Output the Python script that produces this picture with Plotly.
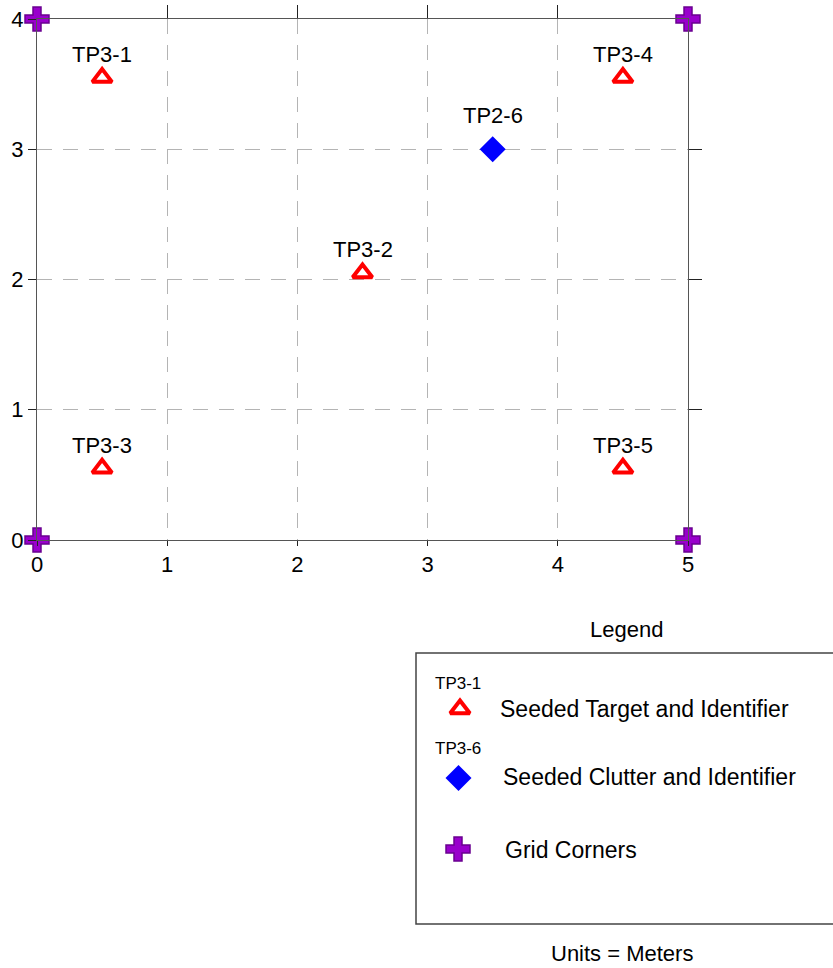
import plotly.graph_objects as go

# Seeded targets (triangles)
target_ids = ["TP3-1", "TP3-4", "TP3-2", "TP3-3", "TP3-5"]
target_x = [0.5, 4.5, 2.5, 0.5, 4.5]
target_y = [3.55, 3.55, 2.05, 0.55, 0.55]

# Seeded clutter (diamonds)
clutter_ids = ["TP2-6"]
clutter_x = [3.5]
clutter_y = [3.0]

# Grid corners (crosses)
corner_x = [0, 0, 5, 5]
corner_y = [0, 4, 0, 4]

x_ticks = [0, 1, 2, 3, 4, 5]
y_ticks = [0, 1, 2, 3, 4]

# Legend entries
legend_names = ["Seeded Target and Identifier", "Seeded Clutter and Identifier", "Grid Corners"]
legend_ids = ["TP3-1", "TP3-6", ""]

W, H = 833, 968
FONT = "Liberation Sans, Arial, sans-serif"
RED = "#ff0000"
BLUE = "#0000ff"
PURPLE = "#9900cc"
PURPLE_EDGE = "#6a0090"
CLEAR = "rgba(0,0,0,0)"

x_dom = [37 / W, 688 / W]
y_dom = [1 - 540 / H, 1 - 19 / H]

fig = go.Figure()

tri_marker = dict(symbol="triangle-up-open", size=17, color=RED, line=dict(color=RED, width=4))
dia_marker = dict(symbol="diamond", size=20, color=BLUE, line=dict(color=BLUE, width=0))
cross_marker = dict(symbol="cross", size=20, color=PURPLE, line=dict(color=PURPLE_EDGE, width=1.5))

fig.add_trace(go.Scatter(x=target_x, y=target_y, mode="markers", marker=tri_marker,
                         cliponaxis=False, hoverinfo="skip", showlegend=False))
fig.add_trace(go.Scatter(x=clutter_x, y=clutter_y, mode="markers", marker=dia_marker,
                         cliponaxis=False, hoverinfo="skip", showlegend=False))
fig.add_trace(go.Scatter(x=corner_x, y=corner_y, mode="markers", marker=cross_marker,
                         cliponaxis=False, hoverinfo="skip", showlegend=False))

# Top / right frame axes with longer ticks
fig.add_trace(go.Scatter(x=[None], y=[None], xaxis="x2", yaxis="y2",
                         showlegend=False, hoverinfo="skip"))

annotations = []
for name, x, y in zip(target_ids, target_x, target_y):
    annotations.append(dict(x=x, y=y, xref="x", yref="y", text=name, showarrow=False,
                            yshift=23, font=dict(size=22, color="black", family=FONT)))
for name, x, y in zip(clutter_ids, clutter_x, clutter_y):
    annotations.append(dict(x=x, y=y, xref="x", yref="y", text=name, showarrow=False,
                            yshift=34, font=dict(size=22, color="black", family=FONT)))

# Legend panel, laid out on a pixel-space overlay axis
leg_sym_x = [460, 458.5, 458]
leg_sym_y = [709, 778, 849]
leg_text_x = [498, 501, 503]
leg_text_y = [709, 777, 850]
leg_id_y = [683, 748, None]

fig.add_trace(go.Scatter(x=[leg_sym_x[0]], y=[leg_sym_y[0]], xaxis="x3", yaxis="y3", mode="markers",
                         marker=tri_marker, showlegend=False, hoverinfo="skip", cliponaxis=False))
fig.add_trace(go.Scatter(x=[leg_sym_x[1]], y=[leg_sym_y[1]], xaxis="x3", yaxis="y3", mode="markers",
                         marker=dia_marker, showlegend=False, hoverinfo="skip", cliponaxis=False))
fig.add_trace(go.Scatter(x=[leg_sym_x[2]], y=[leg_sym_y[2]], xaxis="x3", yaxis="y3", mode="markers",
                         marker=cross_marker, showlegend=False, hoverinfo="skip", cliponaxis=False))

for name, tx, ty in zip(legend_names, leg_text_x, leg_text_y):
    annotations.append(dict(x=tx, y=ty, xref="x3", yref="y3", text=name, showarrow=False,
                            xanchor="left", yanchor="middle",
                            font=dict(size=23, color="black", family=FONT)))
for lid, sx, iy in zip(legend_ids, leg_sym_x, leg_id_y):
    if lid:
        annotations.append(dict(x=458, y=iy, xref="x3", yref="y3", text=lid, showarrow=False,
                                xanchor="center", yanchor="middle",
                                font=dict(size=17, color="black", family=FONT)))

annotations.append(dict(x=626, y=629, xref="x3", yref="y3", text="Legend", showarrow=False,
                        font=dict(size=22, color="black", family=FONT)))
annotations.append(dict(x=622, y=953, xref="x3", yref="y3", text="Units = Meters", showarrow=False,
                        font=dict(size=22, color="black", family=FONT)))

shapes = [dict(type="rect", xref="x3", yref="y3", x0=416, x1=834, y0=653, y1=924,
               line=dict(color="#444444", width=1.5), layer="below")]

grid_style = dict(showgrid=True, gridcolor="#b4b4b4", gridwidth=1, griddash="15px,11px")

fig.update_layout(
    width=W, height=H,
    margin=dict(l=0, r=0, t=0, b=0, pad=0, autoexpand=False),
    paper_bgcolor="white", plot_bgcolor=CLEAR,
    font=dict(family=FONT, color="black"),
    annotations=annotations,
    shapes=shapes,
    xaxis=dict(domain=x_dom, range=[0, 5], tickvals=x_ticks, ticktext=[str(v) for v in x_ticks],
               ticks="outside", ticklen=5, tickcolor="#222222", showline=True, linecolor="#555555",
               linewidth=1, zeroline=False, anchor="y", tickfont=dict(size=22, family=FONT),
               automargin=False, fixedrange=True, **grid_style),
    yaxis=dict(domain=y_dom, range=[0, 4], tickvals=y_ticks, ticktext=[str(v) for v in y_ticks],
               ticks="outside", ticklen=8, tickcolor="#222222", showline=True, linecolor="#555555",
               linewidth=1, zeroline=False, anchor="x", tickfont=dict(size=22, family=FONT),
               ticklabelstandoff=0, automargin=False, fixedrange=True, **grid_style),
    xaxis2=dict(domain=x_dom, range=[0, 5], overlaying="x", side="top", anchor="y2",
                tickvals=x_ticks[1:-1], ticks="outside", ticklen=13, tickcolor="#222222",
                showticklabels=False, showline=True, linecolor="#555555", linewidth=1,
                showgrid=False, zeroline=False, automargin=False, fixedrange=True),
    yaxis2=dict(domain=y_dom, range=[0, 4], overlaying="y", side="right", anchor="x2",
                tickvals=y_ticks[1:-1], ticks="outside", ticklen=13, tickcolor="#222222",
                showticklabels=False, showline=True, linecolor="#555555", linewidth=1,
                showgrid=False, zeroline=False, automargin=False, fixedrange=True),
    xaxis3=dict(domain=[0, 1], range=[0, W], visible=False, anchor="y3",
                automargin=False, fixedrange=True),
    yaxis3=dict(domain=[0, 1], range=[H, 0], visible=False, anchor="x3",
                automargin=False, fixedrange=True),
)

fig.write_html("out.html")
